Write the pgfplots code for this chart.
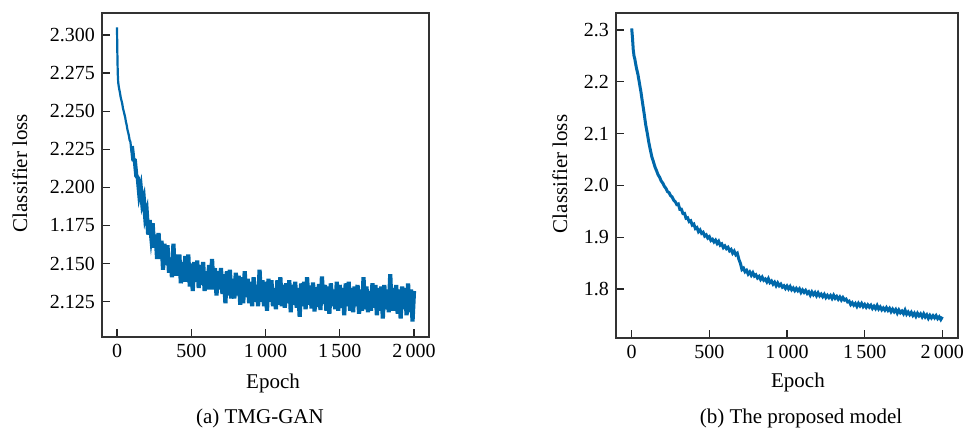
\documentclass[border=0pt]{standalone}
\usepackage{fontspec}
\setmainfont{Liberation Serif}
\usepackage{pgfplots}
\pgfplotsset{compat=1.18}

\definecolor{lossblue}{RGB}{0,104,170}

\pgfplotsset{
  lossax/.style={
    scale only axis, anchor=south west, clip=false,
    axis line style={black!80, line width=0.7pt},
    tick align=inside, xtick pos=bottom, ytick pos=left,
    major tick length=4pt,
    tick style={black!85, line width=0.6pt},
    tick label style={font=\fontsize{10}{12}\selectfont},
    label style={font=\fontsize{10.5}{12}\selectfont},
    xtick={0,500,1000,1500,2000},
    xticklabels={0,500,1\,000,1\,500,2\,000},
    xmin=-101, xmax=2101,
    xlabel={Epoch}, ylabel={Classifier loss},
  }
}

\begin{document}
\begin{tikzpicture}
\useasboundingbox (0,0) rectangle (486pt,217pt);

% (a) TMG-GAN
\begin{axis}[lossax,
  at={(51pt,48.5pt)}, width=163.5pt, height=162pt,
  ymin=2.1018, ymax=2.3144,
  ytick={2.125,2.150,2.175,2.200,2.225,2.250,2.275,2.300},
  yticklabels={2.125,2.150,1.175,2.200,2.225,2.250,2.275,2.300},
  xlabel style={at={(axis description cs:0.523,-0.142)}, anchor=center},
  ylabel style={at={(axis description cs:-0.251,0.506)}, anchor=center, rotate=0},
]
\addplot[lossblue, line width=1.1pt] coordinates {
(0,2.305)(2,2.290)(5,2.275)(8,2.269)(12,2.266)(16,2.264)(20,2.262)(25,2.259)
(30,2.257)(35,2.255)(40,2.252)(45,2.250)(50,2.248)(55,2.246)(60,2.243)(65,2.241)
(70,2.238)(75,2.236)(80,2.234)(85,2.231)(90,2.230)(95,2.226)(100,2.2271)
};
\addplot[lossblue, line width=2.1pt] coordinates {
(100,2.2271)(110,2.2182)(120,2.2177)(130,2.2076)(140,2.2062)(150,2.1955)(160,2.2000)
(170,2.1895)(180,2.1930)(190,2.1805)(200,2.1842)(210,2.1690)(220,2.1786)(230,2.1682)
(240,2.1764)(250,2.1604)(260,2.169)(270,2.153)(280,2.170)(290,2.153)(300,2.165)
(310,2.146)(320,2.163)(330,2.149)(340,2.162)(350,2.144)(360,2.154)(370,2.141)
(380,2.163)(390,2.142)(400,2.156)(410,2.142)(420,2.156)(430,2.137)(440,2.151)
(450,2.138)(460,2.155)(470,2.138)(480,2.156)(490,2.135)(500,2.150)(510,2.132)
(520,2.151)(530,2.138)(540,2.152)(550,2.134)(560,2.149)(570,2.136)(580,2.151)
(590,2.132)(600,2.145)(610,2.133)(620,2.149)(630,2.133)(640,2.153)(650,2.133)
(660,2.147)(670,2.129)(680,2.145)(690,2.133)(700,2.147)(710,2.130)(720,2.143)
(730,2.124)(740,2.145)(750,2.129)(760,2.146)(770,2.127)(780,2.140)(790,2.127)
(800,2.144)(810,2.129)(820,2.142)(830,2.123)(840,2.141)(850,2.124)(860,2.145)
(870,2.128)(880,2.140)(890,2.124)(900,2.138)(910,2.122)(920,2.141)(930,2.125)
(940,2.136)(950,2.122)(960,2.146)(970,2.125)(980,2.139)(990,2.122)(1000,2.138)
(1010,2.119)(1020,2.140)(1030,2.125)(1040,2.139)(1050,2.122)(1060,2.134)(1070,2.120)
(1080,2.139)(1090,2.123)(1100,2.141)(1110,2.122)(1120,2.136)(1130,2.121)(1140,2.137)
(1150,2.124)(1160,2.139)(1170,2.118)(1180,2.136)(1190,2.123)(1200,2.138)(1210,2.121)
(1220,2.134)(1230,2.115)(1240,2.137)(1250,2.122)(1260,2.138)(1270,2.120)(1280,2.141)
(1290,2.123)(1300,2.1355)(1310,2.1205)(1320,2.1375)(1330,2.1185)(1340,2.1345)
(1350,2.1215)(1360,2.1365)(1370,2.1195)(1380,2.1415)(1390,2.1235)(1400,2.136)
(1410,2.119)(1420,2.135)(1430,2.117)(1440,2.137)(1450,2.122)(1460,2.133)(1470,2.120)
(1480,2.138)(1490,2.119)(1500,2.136)(1510,2.121)(1520,2.134)(1530,2.116)(1540,2.137)
(1550,2.122)(1560,2.138)(1570,2.119)(1580,2.134)(1590,2.118)(1600,2.135)(1610,2.122)
(1620,2.136)(1630,2.117)(1640,2.133)(1650,2.119)(1660,2.141)(1670,2.120)(1680,2.135)
(1690,2.118)(1700,2.132)(1710,2.119)(1720,2.137)(1730,2.121)(1740,2.136)(1750,2.116)
(1760,2.134)(1770,2.119)(1780,2.135)(1790,2.114)(1800,2.136)(1810,2.120)(1820,2.133)
(1830,2.118)(1840,2.143)(1850,2.119)(1860,2.134)(1870,2.119)(1880,2.136)(1890,2.117)
(1900,2.133)(1910,2.114)(1920,2.135)(1930,2.120)(1940,2.134)(1950,2.116)(1960,2.137)
(1970,2.118)(1980,2.133)(1990,2.112)(2000,2.132)
};
\node[font=\fontsize{10.5}{12}\selectfont, anchor=center]
  at (axis description cs:0.483,-0.25) {(a) TMG-GAN};
\end{axis}

% (b) The proposed model
\begin{axis}[lossax,
  at={(308pt,48pt)}, width=171pt, height=162.5pt,
  ymin=1.7054, ymax=2.3328,
  ytick={1.8,1.9,2.0,2.1,2.2,2.3},
  yticklabels={1.8,1.9,2.0,2.1,2.2,2.3},
  xlabel style={at={(axis description cs:0.532,-0.138)}, anchor=center},
  ylabel style={at={(axis description cs:-0.164,0.505)}, anchor=center, rotate=0},
]
\addplot[lossblue, line width=1.5pt] coordinates {
(0,2.303)(5,2.285)(10,2.262)(15,2.250)
(20,2.2442)(30,2.2273)(40,2.2144)(50,2.1971)(60,2.1795)(70,2.1589)(80,2.139)
(90,2.1174)(100,2.1012)(110,2.0832)(120,2.0687)(130,2.0548)(140,2.0455)(150,2.0355)
(160,2.0284)(170,2.0205)(180,2.0156)(190,2.0085)(200,2.0045)(210,1.9983)(220,1.9945)
(230,1.9882)(240,1.9862)(250,1.9804)(260,1.9778)(270,1.9716)(280,1.9688)(290,1.9631)
(300,1.9642)(310,1.9537)(320,1.954)(330,1.9456)(340,1.946)(350,1.9365)(360,1.9375)
(370,1.9301)(380,1.9317)(390,1.9234)(400,1.9253)(410,1.9167)(420,1.9186)(430,1.9106)
(440,1.914)(450,1.9075)(460,1.9095)(470,1.9022)(480,1.9045)(490,1.8984)(500,1.901)
(510,1.8937)(520,1.896)(530,1.8908)(540,1.8943)(550,1.8879)(560,1.8921)(570,1.8846)
(580,1.887)(590,1.8798)(600,1.8831)(610,1.8779)(620,1.8805)(630,1.8738)(640,1.8764)
(650,1.8691)(660,1.8731)(670,1.8662)(680,1.869)(690,1.8573)(700,1.8495)(710,1.8376)
(720,1.8402)(730,1.8332)(740,1.836)(750,1.8288)(760,1.8328)(770,1.8266)(780,1.8315)
(790,1.8249)(800,1.8274)(810,1.8214)(820,1.8244)(830,1.8184)(840,1.8229)(850,1.8169)
(860,1.8193)(870,1.8139)(880,1.8199)(890,1.8124)(900,1.8154)(910,1.8093)(920,1.8131)
(930,1.8064)(940,1.8117)(950,1.8062)(960,1.8094)(970,1.8036)(980,1.8062)(990,1.801)
(1000,1.8057)(1010,1.8002)(1020,1.8049)(1030,1.7985)(1040,1.802)(1050,1.7968)
(1060,1.8012)(1070,1.7966)(1080,1.8004)(1090,1.7934)(1100,1.7981)(1110,1.7935)
(1120,1.7973)(1130,1.7915)(1140,1.7947)(1150,1.7883)(1160,1.7942)(1170,1.789)
(1180,1.7931)(1190,1.787)(1200,1.7926)(1210,1.7867)(1220,1.7901)(1230,1.7851)
(1240,1.7897)(1250,1.7835)(1260,1.7878)(1270,1.7834)(1280,1.7874)(1290,1.7818)
(1300,1.7879)(1310,1.7821)(1320,1.7857)(1330,1.7802)(1340,1.7846)(1350,1.7788)
(1360,1.7835)(1370,1.7786)(1380,1.7805)(1390,1.7751)(1400,1.7765)(1410,1.7699)
(1420,1.7736)(1430,1.7687)(1440,1.7722)(1450,1.7664)(1460,1.7723)(1470,1.7674)
(1480,1.7721)(1490,1.766)(1500,1.7701)(1510,1.7648)(1520,1.7694)(1530,1.765)
(1540,1.7687)(1550,1.7625)(1560,1.7668)(1570,1.7621)(1580,1.7682)(1590,1.7614)
(1600,1.7654)(1610,1.7598)(1620,1.7635)(1630,1.7591)(1640,1.764)(1650,1.7587)
(1660,1.7627)(1670,1.7562)(1680,1.7611)(1690,1.7561)(1700,1.7604)(1710,1.7535)
(1720,1.7595)(1730,1.7541)(1740,1.7574)(1750,1.7523)(1760,1.7592)(1770,1.7514)
(1780,1.7556)(1790,1.7505)(1800,1.755)(1810,1.7489)(1820,1.7533)(1830,1.7472)
(1840,1.7531)(1850,1.7482)(1860,1.752)(1870,1.7462)(1880,1.7521)(1890,1.746)
(1900,1.7501)(1910,1.7434)(1920,1.749)(1930,1.7441)(1940,1.7485)(1950,1.7442)
(1960,1.7486)(1970,1.7428)(1980,1.7463)(1990,1.7411)(2000,1.7464)
};
\node[font=\fontsize{10.5}{12}\selectfont, anchor=center]
  at (axis description cs:0.541,-0.246) {(b) The proposed model};
\end{axis}
\end{tikzpicture}
\end{document}
